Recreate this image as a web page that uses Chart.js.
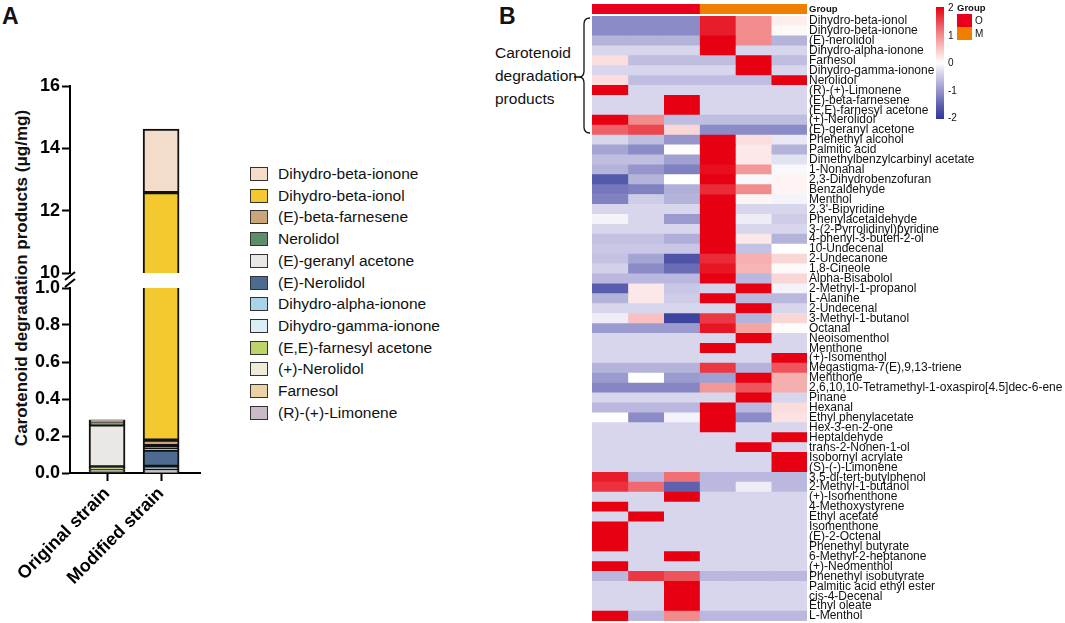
<!DOCTYPE html>
<html>
<head>
<meta charset="utf-8">
<script src="https://cdn.jsdelivr.net/npm/chart.js@4.4.1/dist/chart.umd.min.js"></script>
<style>
  body { margin: 0; background: #fff; font-family: 'Liberation Sans', Arial, sans-serif; color: #111; }
  #page { position: relative; width: 1065px; height: 623px; overflow: hidden; }
  canvas, .abs { position: absolute; }
  .panel { font-weight: bold; font-size: 23px; line-height: 23px; }
  .ytitle { left: -178px; top: 268px; width: 400px; line-height: 20px; text-align: center;
            font-weight: bold; font-size: 17px; transform: rotate(-90deg); }
  .legRow { position: absolute; left: 0; height: 20px; white-space: nowrap; font-size: 15.5px; line-height: 20px; }
  .legBox { position: absolute; left: 0; top: 3px; width: 16px; height: 12px; border: 1px solid #333; }
  .legText { position: absolute; left: 28px; top: 0; }
  .cbLab { position: absolute; left: 948px; font-size: 10px; line-height: 12px; transform: translateY(-50%); }
</style>
</head>
<body>
<div id="page">
  <div class="abs panel" style="left:2px; top:5px">A</div>
  <div class="abs panel" style="left:499px; top:5px">B</div>
  <div class="abs ytitle">Carotenoid degradation products (μg/mg)</div>
  <canvas id="barTop" width="210" height="230" style="left:0; top:60px"></canvas>
  <canvas id="barBottom" width="210" height="350" style="left:0; top:270px"></canvas>
  <div id="barLegend" class="abs" style="left:250px; top:0; width:230px; height:440px"></div>

  <div class="abs" style="left:495px; top:41px; font-size:15.5px; line-height:23px">Carotenoid<br>degradation<br>products</div>
  <svg class="abs" style="left:0; top:0" width="1065" height="623">
    <path d="M590,18 Q584,18 584,24 L584,71 Q584,77 579,77 Q584,77 584,83 L584,127 Q584,133 590,133 M574,77 L579,77"
          fill="none" stroke="#111" stroke-width="1.3"/>
  </svg>

  <canvas id="groupBar" width="473" height="18" style="left:592px; top:0"></canvas>
  <canvas id="heat" width="473" height="623" style="left:592px; top:0"></canvas>

  <div id="colourBar" class="abs" style="left:936px; top:7px; width:8px; height:112px"></div>
  <div id="colourLabels"></div>
  <div class="abs" style="left:957px; top:2px; font-size:9.5px; font-weight:bold">Group</div>
  <div class="abs" style="left:957px; top:14px; width:15px; height:13px; background:#e8001c"></div>
  <div class="abs" style="left:957px; top:27px; width:15px; height:13px; background:#f07f00"></div>
  <div class="abs" style="left:975px; top:15px; font-size:10px">O</div>
  <div class="abs" style="left:975px; top:28px; font-size:10px">M</div>
</div>

<script>
// ---- panel A: stacked bars (stack order bottom -> top) ----
const strains = ['Original strain', 'Modified strain'];
const compounds = ['(R)-(+)-Limonene', 'Farnesol', '(+)-Nerolidol', '(E,E)-farnesyl acetone',
  'Dihydro-gamma-ionone', 'Dihydro-alpha-ionone', '(E)-Nerolidol', '(E)-geranyl acetone',
  'Nerolidol', '(E)-beta-farnesene', 'Dihydro-beta-ionol', 'Dihydro-beta-ionone'];
const originalStrain = [0.008, 0.003, 0.008, 0.01, 0.001, 0.001, 0.002, 0.227, 0.004, 0.012, 0.006, 0.005];
const modifiedStrain = [0.004, 0.003, 0.003, 0.002, 0.004, 0.02, 0.088, 0.004, 0.02, 0.03, 12.40, 2.04];
const compoundColors = ['#c8bac8', '#ebd1a6', '#f1ead9', '#bdd46b', '#dcedf5', '#a9d3e8',
  '#4b6b90', '#ebe7e5', '#5f8c6c', '#c9a57b', '#f3c92f', '#f4dccb'];
const upperTicks = [10, 12, 14, 16];
const lowerTicks = [0, 0.2, 0.4, 0.6, 0.8, 1.0];

// ---- panel B: heatmap (row z-scores per sample) ----
const heatRows = ['Dihydro-beta-ionol', 'Dihydro-beta-ionone', '(E)-nerolidol', 'Dihydro-alpha-ionone',
  'Farnesol', 'Dihydro-gamma-ionone', 'Nerolidol', '(R)-(+)-Limonene', '(E)-beta-farnesene',
  '(E,E)-farnesyl acetone', '(+)-Nerolidol', '(E)-geranyl acetone', 'Phenethyl alcohol', 'Palmitic acid',
  'Dimethylbenzylcarbinyl acetate', '1-Nonanal', '2,3-Dihydrobenzofuran', 'Benzaldehyde', 'Menthol',
  "2,3'-Bipyridine", 'Phenylacetaldehyde', '3-(2-Pyrrolidinyl)pyridine', '4-phenyl-3-buten-2-ol',
  '10-Undecenal', '2-Undecanone', '1,8-Cineole', 'Alpha-Bisabolol', '2-Methyl-1-propanol', 'L-Alanine',
  '2-Undecenal', '3-Methyl-1-butanol', 'Octanal', 'Neoisomenthol', 'Menthone', '(+)-Isomenthol',
  'Megastigma-7(E),9,13-triene', 'Menthone', '2,6,10,10-Tetramethyl-1-oxaspiro[4.5]dec-6-ene', 'Pinane',
  'Hexanal', 'Ethyl phenylacetate', 'Hex-3-en-2-one', 'Heptaldehyde', 'trans-2-Nonen-1-ol',
  'Isobornyl acrylate', '(S)-(-)-Limonene', '3,5-di-tert-butylphenol', '2-Methyl-1-butanol',
  '(+)-Isomenthone', '4-Methoxystyrene', 'Ethyl acetate', 'Isomenthone', '(E)-2-Octenal',
  'Phenethyl butyrate', '6-Methyl-2-heptanone', '(+)-Neomenthol', 'Phenethyl isobutyrate',
  'Palmitic acid ethyl ester', 'cis-4-Decenal', 'Ethyl oleate', 'L-Menthol'];
const sampleO1 = [-1.1, -1.1, -0.7, -0.35, 0.3, -0.35, 0.3, 2, -0.35, -0.35,
  2, 1.3, -0.35, -0.85, -0.6, -0.7, -1.6, -1.3, -1.2, -0.35,
  -0.1, -0.35, -0.55, -0.5, -0.55, -0.4, -0.65, -1.55, -0.7, -0.35,
  -0.15, -0.95, -0.35, -0.35, -0.35, -0.7, -0.95, -1.15, -0.35, -0.65,
  0, -0.35, -0.35, -0.35, -0.35, -0.35, 1.8, 1.65, -0.35, 2,
  -0.35, 2, 2, 2, -0.35, 2, -0.65, -0.35, -0.35, -0.35, 2];
const sampleO2 = [-1.1, -1.1, -0.7, -0.35, -0.6, -0.35, -0.6, -0.35, -0.35, -0.35,
  1.0, 1.5, -0.6, -1.1, -0.6, -1.0, -0.7, -1.2, -0.45, -0.35,
  -0.35, -0.35, -0.55, -0.5, -0.85, -1.1, -0.65, 0.2, 0.2, -0.35,
  0.55, -0.95, -0.35, -0.35, -0.35, -0.7, 0, -1.15, -0.35, -0.65,
  -1.1, -0.35, -0.35, -0.35, -0.35, -0.35, -0.65, 1.25, -0.35, -0.35,
  2, -0.35, -0.35, -0.35, -0.35, -0.35, 1.6, -0.35, -0.35, -0.35, -0.65];
const sampleO3 = [-1.1, -1.1, -0.7, -0.35, -0.6, -0.35, -0.6, -0.35, 2, 2,
  -0.6, 0.35, -1.0, 0.03, -0.9, -1.2, 0, -0.75, -0.7, -0.35,
  -0.95, -0.35, -0.75, -0.5, -1.65, -1.4, -0.65, -0.5, -0.45, -0.35,
  -1.85, -0.95, -0.35, -0.35, -0.35, -0.7, -0.95, -1.15, -0.35, -0.65,
  -0.1, -0.35, -0.35, -0.35, -0.35, -0.35, 1.2, -1.5, 2, -0.35,
  -0.35, -0.35, -0.35, -0.35, 2, -0.35, 1.4, 2, 2, 2, 1.0];
const sampleM1 = [1.8, 1.8, 2, 2, -0.6, -0.35, -0.6, -0.35, -0.35, -0.35,
  -0.6, -1.1, 2, 2, 2, 1.9, 2, 1.7, 2, 2,
  2, 2, 2, 2, 1.7, 1.85, 2, -0.4, 2, -0.35,
  1.6, 1.85, -0.35, 2, -0.35, 1.6, -0.9, 0.9, -0.35, 2,
  2, 2, -0.35, -0.35, -0.35, -0.35, -0.65, -0.65, -0.35, -0.35,
  -0.35, -0.35, -0.35, -0.35, -0.35, -0.35, -0.65, -0.35, -0.35, -0.35, -0.65];
const sampleM2 = [1.0, 1.0, 1.0, -0.35, 2, 2, -0.6, -0.35, -0.35, -0.35,
  -0.6, -1.1, 0.3, 0.2, 0.2, 0.9, -0.05, 1.0, 0.1, -0.35,
  -0.15, -0.35, 0.2, -0.55, 0.7, 0.65, -0.65, 2, -0.65, 2,
  -0.7, 0.8, 2, -0.35, -0.35, -0.7, 2, 1.4, 2, -0.65,
  -1.1, -0.35, -0.35, 2, -0.35, -0.35, -0.65, -0.15, -0.35, -0.35,
  -0.35, -0.35, -0.35, -0.35, -0.35, -0.35, -0.65, -0.35, -0.35, -0.35, -0.65];
const sampleM3 = [0.15, 0.05, -0.7, -0.35, -0.6, -0.35, 2, -0.35, -0.35, -0.35,
  -0.6, -1.1, -0.2, -0.7, -0.25, -0.05, 0.1, 0.1, -0.1, -0.35,
  -0.45, -0.35, -0.7, 0, 0.35, 0.05, 0.35, -0.1, -0.65, -0.35,
  0.35, 0.03, -0.35, -0.35, 2, 1.4, 0.7, 0.7, -0.35, 0.3,
  0.25, -0.35, 2, -0.35, 2, 2, -0.65, -0.65, -0.35, -0.35,
  -0.35, -0.35, -0.35, -0.35, -0.35, -0.35, -0.65, -0.35, -0.35, -0.35, -0.65];
const groupLabels = ['O', 'M'];
const colourTicks = [2, 1, 0, -1, -2];

// colour ramp used by the heatmap and the colour key
const colourStops = [[-2, [45, 55, 150]], [-1.5, [95, 97, 175]], [-1, [150, 150, 205]],
  [-0.35, [216, 214, 236]], [0, [255, 255, 255]], [1, [242, 140, 140]], [2, [230, 0, 18]]];
const colourFor = v => {
  for (let i = 1; i < colourStops.length; i++) {
    const [v0, c0] = colourStops[i - 1], [v1, c1] = colourStops[i];
    if (v <= v1) {
      const t = Math.max(0, (v - v0) / (v1 - v0));
      return 'rgb(' + c0.map((c, k) => Math.round(c + (c1[k] - c) * t)).join(',') + ')';
    }
  }
  return 'rgb(230,0,18)';
};

const axisFont = {family: "'Liberation Sans', Arial, sans-serif", size: 18, weight: 'bold'};
const xRange = {min: 0.315, max: 2.72};

const barDatasets = compounds.map((name, i) => ({
  label: name,
  data: [{x: 1, y: originalStrain[i]}, {x: 2, y: modifiedStrain[i]}],
  backgroundColor: compoundColors[i],
  borderColor: '#111',
  borderWidth: 2,
  borderSkipped: false,
  barThickness: 36,
  grouped: false,
  clip: 0
}));

const yAxis = (min, max, ticks, fmt) => ({
  min, max, stacked: true,
  afterBuildTicks: s => { s.ticks = ticks.map(v => ({value: v})); },
  afterFit: s => { s.width = 70; s.paddingTop = 0; s.paddingBottom = 0; },
  ticks: {font: axisFont, color: '#000', padding: 2, callback: fmt},
  grid: {drawOnChartArea: false, tickLength: 8, tickWidth: 2, tickColor: '#000'},
  border: {color: '#000', width: 2}
});

new Chart(document.getElementById('barTop'), {
  type: 'bar',
  data: {datasets: barDatasets},
  options: {
    responsive: false, animation: false,
    layout: {padding: {top: 26, bottom: 17, right: 10, left: 0}},
    plugins: {legend: {display: false}, tooltip: {enabled: false}},
    scales: {
      x: {type: 'linear', ...xRange, offset: false, display: false},
      y: yAxis(10, 16, upperTicks, v => String(v))
    }
  }
});

const breakMarks = {
  id: 'breakMarks',
  afterDraw(chart) {
    const {ctx, chartArea} = chart;
    ctx.save();
    ctx.strokeStyle = '#000';
    ctx.lineWidth = 2;
    [-12, -5].forEach(dy => {
      ctx.beginPath();
      ctx.moveTo(chartArea.left - 5, chartArea.top + dy + 4);
      ctx.lineTo(chartArea.left + 5, chartArea.top + dy - 4);
      ctx.stroke();
    });
    ctx.restore();
  }
};

new Chart(document.getElementById('barBottom'), {
  type: 'bar',
  data: {datasets: barDatasets},
  plugins: [breakMarks],
  options: {
    responsive: false, animation: false,
    layout: {padding: {top: 18, bottom: 0, right: 10, left: 0}},
    plugins: {legend: {display: false}, tooltip: {enabled: false}},
    scales: {
      x: {
        type: 'linear', ...xRange, offset: false,
        afterBuildTicks: s => { s.ticks = strains.map((_, i) => ({value: i + 1})); },
        afterFit: s => { s.height = 147; s.paddingLeft = 0; s.paddingRight = 0; },
        ticks: {font: axisFont, color: '#000', padding: 2, autoSkip: false,
                minRotation: 45, maxRotation: 45, callback: v => strains[v - 1]},
        grid: {drawOnChartArea: false, tickLength: 8, tickWidth: 2, tickColor: '#000', offset: false},
        border: {color: '#000', width: 2}
      },
      y: yAxis(0, 1, lowerTicks, v => v.toFixed(1))
    }
  }
});

// legend of panel A (top of stack first)
const legendEl = document.getElementById('barLegend');
compounds.slice().reverse().forEach((name, i) => {
  const idx = compounds.length - 1 - i;
  const row = document.createElement('div');
  row.className = 'legRow';
  row.style.top = (164 + i * 21.7) + 'px';
  row.innerHTML = '<div class="legBox" style="background:' + compoundColors[idx] + '"></div>' +
                  '<div class="legText">' + name + '</div>';
  legendEl.appendChild(row);
});

// ---- panel B ----
const samples = [sampleO1, sampleO2, sampleO3, sampleM1, sampleM2, sampleM3];
const rightAxis = (width, font) => ({
  position: 'right',
  afterFit: s => { s.width = width; s.paddingTop = 0; s.paddingBottom = 0; },
  grid: {display: false, drawTicks: false},
  border: {display: false},
  ticks: {autoSkip: false, padding: 2, color: '#111', font}
});

new Chart(document.getElementById('groupBar'), {
  type: 'bar',
  data: {
    labels: ['Group'],
    datasets: groupLabels.map((g, i) => ({
      label: g, data: [[i * 3, i * 3 + 3]],
      backgroundColor: i === 0 ? '#e8001c' : '#f07f00',
      borderWidth: 0, grouped: false, barPercentage: 1, categoryPercentage: 1
    }))
  },
  options: {
    indexAxis: 'y', responsive: false, animation: false,
    layout: {padding: {top: 4, bottom: 4, left: 0, right: 0}},
    plugins: {legend: {display: false}, tooltip: {enabled: false}},
    scales: {
      x: {type: 'linear', min: 0, max: 6, display: false},
      y: rightAxis(258, {family: "'Liberation Sans', Arial, sans-serif", size: 9.5, weight: 'bold'})
    }
  }
});

new Chart(document.getElementById('heat'), {
  type: 'bar',
  data: {
    labels: heatRows,
    datasets: samples.map((vals, s) => ({
      label: 'S' + s,
      data: vals.map(() => [s, s + 1]),
      backgroundColor: vals.map(colourFor),
      borderWidth: 0, grouped: false, barPercentage: 1, categoryPercentage: 1
    }))
  },
  options: {
    indexAxis: 'y', responsive: false, animation: false,
    layout: {padding: {top: 16, bottom: 2, left: 0, right: 0}},
    plugins: {legend: {display: false}, tooltip: {enabled: false}},
    scales: {
      x: {type: 'linear', min: 0, max: 6, display: false},
      y: rightAxis(258, {family: "'Liberation Sans', Arial, sans-serif", size: 12})
    }
  }
});

// colour key
const cb = document.getElementById('colourBar');
cb.style.background = 'linear-gradient(to bottom,' +
  colourStops.slice().reverse().map(([v, c]) => 'rgb(' + c.join(',') + ') ' + ((2 - v) / 4 * 100) + '%').join(',') + ')';
const cbl = document.getElementById('colourLabels');
colourTicks.forEach(v => {
  const d = document.createElement('div');
  d.className = 'cbLab';
  d.style.top = (8 + (2 - v) / 4 * 110) + 'px';
  d.textContent = String(v);
  cbl.appendChild(d);
});
</script>
</body>
</html>
